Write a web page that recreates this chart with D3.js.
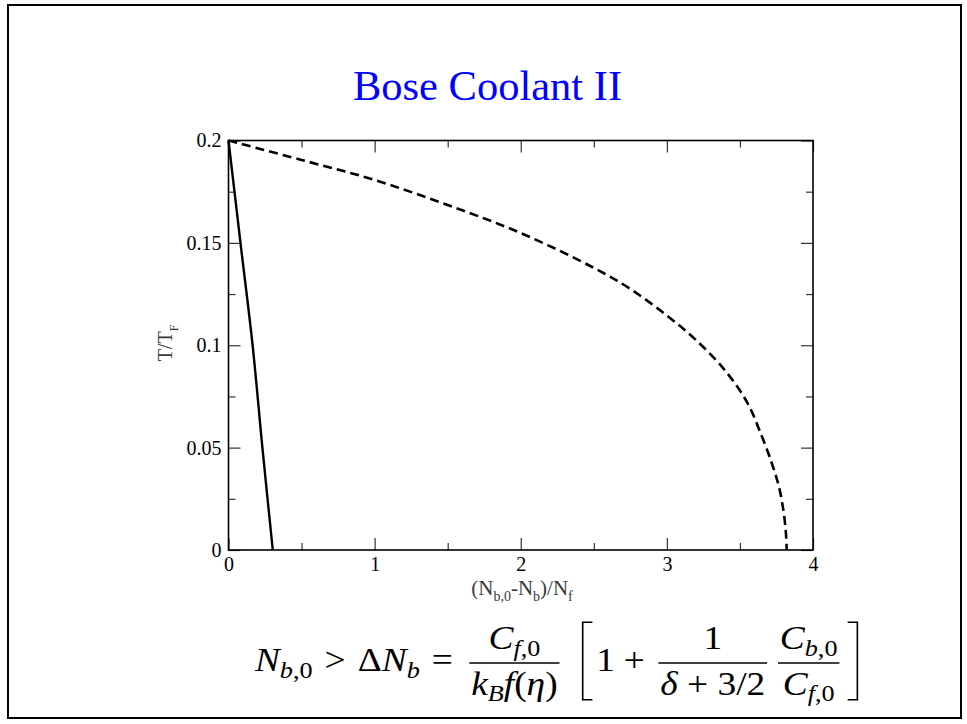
<!DOCTYPE html>
<html>
<head>
<meta charset="utf-8">
<script src="https://cdn.jsdelivr.net/npm/d3@7"></script>
<style>
    body { margin: 0; background: #fff; }
    svg { display: block; }
</style>
</head>
<body>
<svg id="slide" width="967" height="724"></svg>
<script>
// boundary curves, T/T_F against (N_b,0 - N_b)/N_f
const ratioDashed = [0, 0.5, 1.0, 1.5, 2.0, 2.5, 2.75, 3.0, 3.2, 3.4, 3.55, 3.65, 3.72, 3.77, 3.8, 3.815, 3.82];
const tempDashed  = [0.2, 0.1905, 0.1807, 0.1685, 0.1548, 0.1378, 0.1275, 0.1145, 0.1025, 0.0875, 0.072, 0.0555, 0.042, 0.030, 0.018, 0.008, 0];

const ratioSolid = [0, 0.082, 0.165, 0.232, 0.303];
const tempSolid  = [0.2, 0.15, 0.1, 0.05, 0];

const xTicks = [0, 1, 2, 3, 4];
const xMinor = [0.5, 1.5, 2.5, 3.5];
const yTicks = [0, 0.05, 0.1, 0.15, 0.2];
const yTickLabels = ['0', '0.05', '0.1', '0.15', '0.2'];
const yMinor = [0.025, 0.075, 0.125, 0.175];

const SERIF = '"Liberation Serif", "DejaVu Serif", "Times New Roman", serif';

const svg = d3.select('#slide')
    .style('font-family', SERIF);

svg.append('rect')
    .attr('width', 967).attr('height', 724)
    .attr('fill', '#fff');

// slide frame
svg.append('rect')
    .attr('x', 8).attr('y', 5)
    .attr('width', 953).attr('height', 713)
    .attr('fill', 'none')
    .attr('stroke', '#000')
    .attr('stroke-width', 2);

svg.append('text')
    .attr('x', 487.5).attr('y', 100)
    .attr('text-anchor', 'middle')
    .attr('font-size', 42.5)
    .attr('fill', '#0000ff')
    .text('Bose Coolant II');

const plot = {left: 228.5, right: 813, top: 140.5, bottom: 550};

const x = d3.scaleLinear().domain([0, 4]).range([plot.left, plot.right]);
const y = d3.scaleLinear().domain([0, 0.2]).range([plot.bottom, plot.top]);

const major = 12, minor = 7;

function styleAxis(g) {
    g.attr('font-family', null);
    g.select('.domain').remove();
    g.selectAll('line').attr('stroke', '#333').attr('stroke-width', 1.2);
    g.selectAll('text')
        .attr('font-size', 20)
        .attr('fill', '#000');
}

// labelled axes
svg.append('g')
    .attr('transform', `translate(0,${plot.bottom})`)
    .call(d3.axisBottom(x).tickValues(xTicks).tickSize(-major).tickPadding(7).tickFormat(d3.format('d')))
    .call(styleAxis);

svg.append('g')
    .attr('transform', `translate(${plot.left},0)`)
    .call(d3.axisLeft(y).tickValues(yTicks).tickSize(-major).tickPadding(7)
        .tickFormat((d, i) => yTickLabels[i]))
    .call(styleAxis);

// mirrored ticks and minor ticks
const tickSets = [
    [d3.axisBottom(x).tickValues(xMinor).tickSize(-minor), `translate(0,${plot.bottom})`],
    [d3.axisTop(x).tickValues(xTicks).tickSize(-major), `translate(0,${plot.top})`],
    [d3.axisTop(x).tickValues(xMinor).tickSize(-minor), `translate(0,${plot.top})`],
    [d3.axisLeft(y).tickValues(yMinor).tickSize(-minor), `translate(${plot.left},0)`],
    [d3.axisRight(y).tickValues(yTicks).tickSize(-major), `translate(${plot.right},0)`],
    [d3.axisRight(y).tickValues(yMinor).tickSize(-minor), `translate(${plot.right},0)`]
];
tickSets.forEach(([axis, tr]) => {
    const g = svg.append('g').attr('transform', tr)
        .call(axis.tickFormat(''))
        .call(styleAxis);
    g.selectAll('text').remove();
});

svg.append('rect')
    .attr('x', plot.left).attr('y', plot.top)
    .attr('width', plot.right - plot.left)
    .attr('height', plot.bottom - plot.top)
    .attr('fill', 'none')
    .attr('stroke', '#000')
    .attr('stroke-width', 1.6);

// curves
const line = d3.line()
    .x(d => x(d[0]))
    .y(d => y(d[1]))
    .curve(d3.curveCatmullRom.alpha(0.5));

svg.append('path')
    .datum(d3.zip(ratioDashed, tempDashed))
    .attr('d', line)
    .attr('fill', 'none')
    .attr('stroke', '#000')
    .attr('stroke-width', 2.6)
    .attr('stroke-dasharray', '9,5');

svg.append('path')
    .datum(d3.zip(ratioSolid, tempSolid))
    .attr('d', line)
    .attr('fill', 'none')
    .attr('stroke', '#000')
    .attr('stroke-width', 2.4);

// axis titles
const yTitle = svg.append('text')
    .attr('transform', 'translate(172,343) rotate(-90)')
    .attr('text-anchor', 'middle')
    .attr('font-size', 20)
    .attr('fill', '#3a3a3a');
yTitle.append('tspan').text('T/T');
yTitle.append('tspan').text('F').attr('font-size', 12).attr('dy', 6);

const xTitle = svg.append('text')
    .attr('x', 522).attr('y', 595)
    .attr('text-anchor', 'middle')
    .attr('font-size', 21)
    .attr('fill', '#3a3a3a');
[['(N', 0], ['b,0', 1], ['-N', 0], ['b', 1], [')/N', 0], ['f', 1]].forEach(([s, sub], i, arr) => {
    const prevSub = i > 0 && arr[i - 1][1];
    const ts = xTitle.append('tspan').text(s).attr('font-size', sub ? 14 : 21);
    if (sub && !prevSub) ts.attr('dy', 6);
    if (!sub && prevSub) ts.attr('dy', -6);
});

// condition formula, laid out run by run
const fs = 34;
const stretch = 1.1;
const eq = svg.append('g');
const axisY = 663, base = axisY + 0.25 * fs;
const numBase = base - 0.66 * fs, denBase = base + 0.68 * fs;

function run(parts, px, py) {
    const t = eq.append('text').attr('x', px).attr('y', py).attr('font-size', fs);
    let down = false;
    parts.forEach(([s, st]) => {
        const sub = st[0] === 's';
        const ts = t.append('tspan').text(s)
            .attr('font-style', st.endsWith('i') ? 'italic' : 'normal')
            .attr('font-size', sub ? fs * 0.7 : fs);
        if (sub && !down) { ts.attr('dy', fs * 0.2); down = true; }
        else if (!sub && down) { ts.attr('dy', -fs * 0.2); down = false; }
    });
    return {node: t, w: t.node().getComputedTextLength()};
}

let cx = 0;
function addRun(parts, gapAfter = 0) {
    const r = run(parts, cx, base);
    cx += r.w + gapAfter * fs;
}
function addFrac(num, den) {
    cx += 0.12 * fs;
    const n = run(num, 0, numBase), d = run(den, 0, denBase);
    const w = Math.max(n.w, d.w) + 0.1 * fs;
    n.node.attr('x', cx + (w - n.w) / 2);
    d.node.attr('x', cx + (w - d.w) / 2);
    eq.append('line')
        .attr('x1', cx).attr('x2', cx + w)
        .attr('y1', axisY).attr('y2', axisY)
        .attr('stroke', '#000').attr('stroke-width', 1.3);
    cx += w + 0.12 * fs;
}
function addBracket(side) {
    const top = axisY - 1.2 * fs, bot = axisY + 1.08 * fs, arm = 0.26 * fs;
    const xs = side === 'left' ? cx + 0.1 * fs : cx + 0.1 * fs + arm;
    const xe = side === 'left' ? xs + arm : xs - arm;
    eq.append('path')
        .attr('d', `M${xe},${top}H${xs}V${bot}H${xe}`)
        .attr('fill', 'none').attr('stroke', '#000').attr('stroke-width', 1.5);
    cx += arm + 0.2 * fs;
}

addRun([['N', 'i'], ['b', 'si'], [',0', 'sr']], 0.32);
addRun([['>', 'r']], 0.32);
addRun([['\u0394', 'r'], ['N', 'i'], ['b', 'si']], 0.32);
addRun([['=', 'r']], 0.32);
addFrac([['C', 'i'], ['f', 'si'], [',0', 'sr']],
        [['k', 'i'], ['B', 'si'], ['f', 'i'], ['(', 'r'], ['\u03b7', 'i'], [')', 'r']]);
cx += 0.4 * fs;
addBracket('left');
addRun([['1', 'r']], 0.24);
addRun([['+', 'r']], 0.24);
addFrac([['1', 'r']], [['\u03b4', 'i'], [' + 3/2', 'r']]);
cx += 0.05 * fs;
addFrac([['C', 'i'], ['b', 'si'], [',0', 'sr']], [['C', 'i'], ['f', 'si'], [',0', 'sr']]);
addBracket('right');

// widen slightly to the proportions of the typeset original, centred under the plot
eq.attr('transform', `translate(${558 - cx * stretch / 2},0) scale(${stretch},1)`);
</script>
</body>
</html>
